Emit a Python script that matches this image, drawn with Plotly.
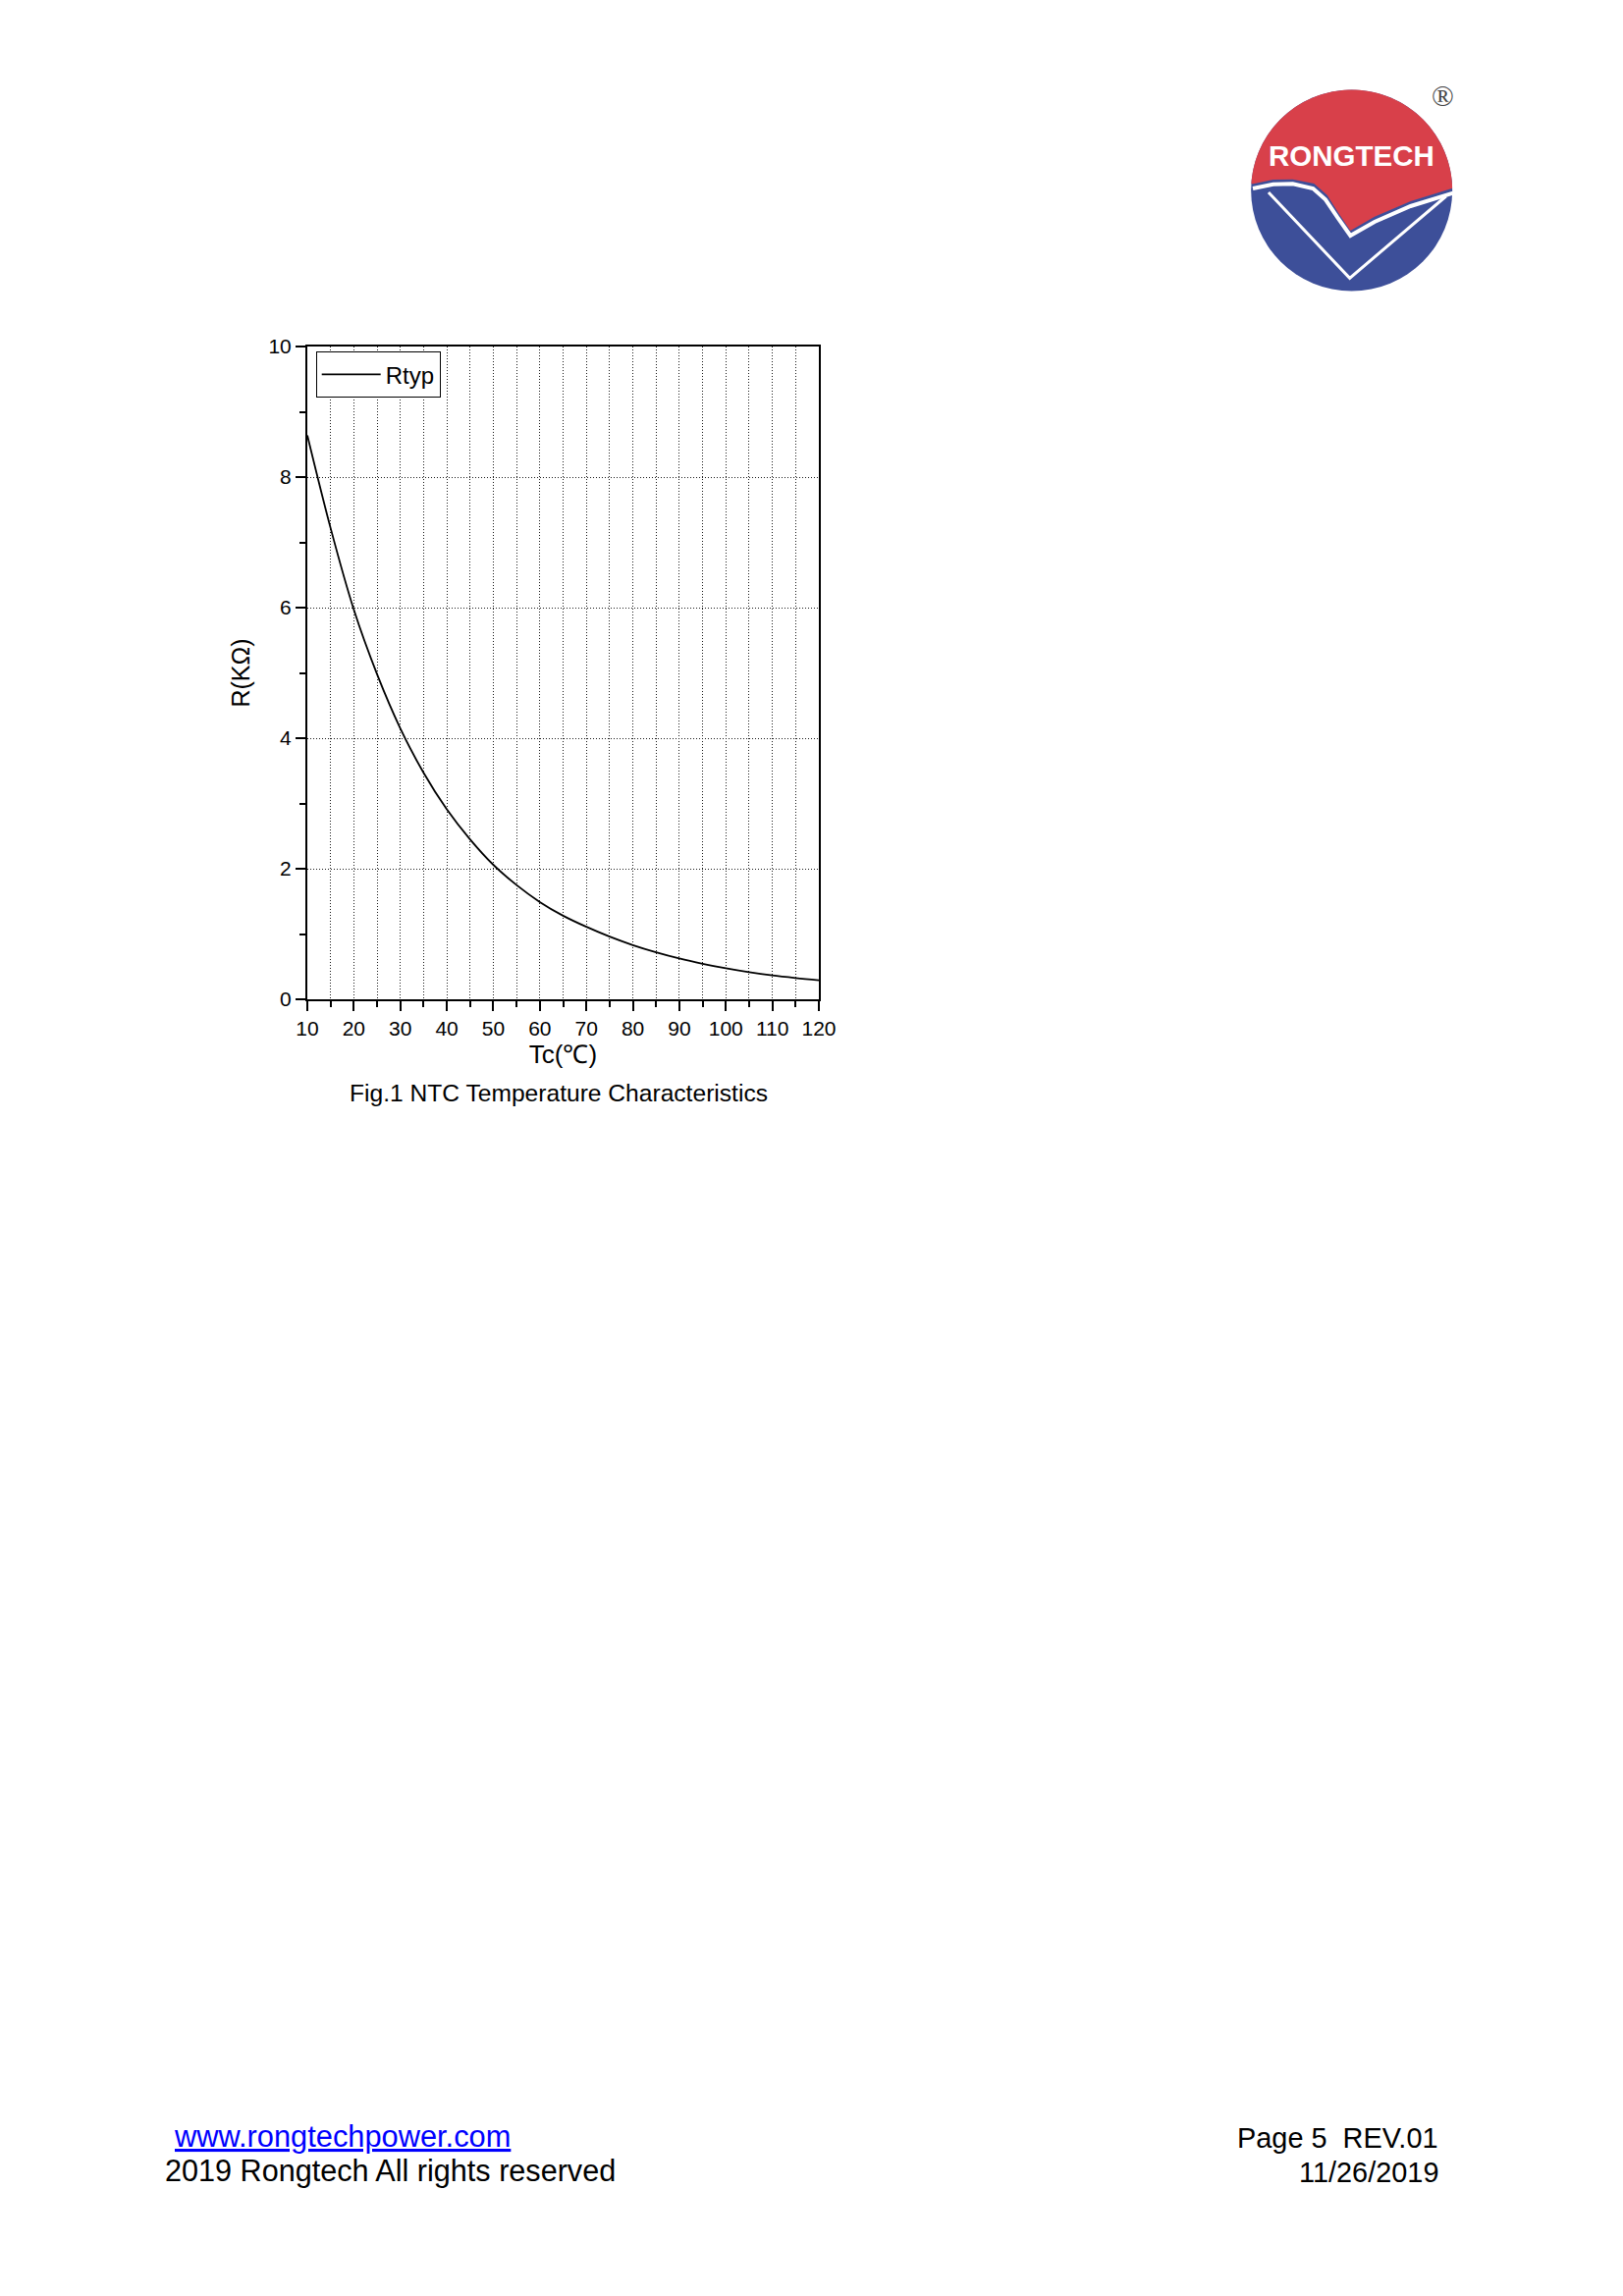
import numpy as np
import plotly.graph_objects as go

# ---------------- data ----------------
temperature_c = [10, 15, 20, 25, 30, 35, 40, 45, 50, 55, 60, 65, 70,
                 75, 80, 85, 90, 95, 100, 105, 110, 115, 120]
r_typ_kohm = [8.64, 7.22, 5.97, 4.98, 4.15, 3.47, 2.91, 2.45, 2.06, 1.75,
              1.49, 1.28, 1.11, 0.96, 0.83, 0.72, 0.625, 0.545, 0.475,
              0.415, 0.365, 0.325, 0.29]
x_tick_vals = [10, 20, 30, 40, 50, 60, 70, 80, 90, 100, 110, 120]
y_tick_vals = [0, 2, 4, 6, 8, 10]
series_name = "Rtyp"
x_title = "Tc(℃)"
y_title = "R(KΩ)"
caption = "Fig.1 NTC Temperature Characteristics"

# ---------------- page geometry ----------------
W, H = 1653, 2339            # browser window
OFF = 8                      # default body margin of the html page
FW, FH = W - 2 * OFF, H - 2 * OFF
L, R_, T, B = 313, 834, 353, 1018          # plot area in page pixels
PW, PH = R_ - L, B - T


def px(x):
    return (x - L) / PW


def py(y):
    return (B - y) / PH


FONT = "Arial, Liberation Sans, sans-serif"
GRIDC = "#1a1a1a"
DOTS = "1px,2px"

fig = go.Figure()
fig.add_trace(go.Scatter(
    x=temperature_c, y=r_typ_kohm, mode="lines", name=series_name,
    line=dict(color="black", width=1.8, shape="spline", smoothing=1.0),
    showlegend=True,
))

fig.update_xaxes(
    range=[10, 120], tickvals=x_tick_vals,
    showgrid=True, gridcolor=GRIDC, gridwidth=1, griddash=DOTS,
    showline=True, linecolor="black", linewidth=2, mirror=True,
    ticks="outside", ticklen=10, tickwidth=2, tickcolor="black",
    tickfont=dict(family=FONT, size=21, color="black"),
    minor=dict(dtick=5, tick0=5, showgrid=True, gridcolor=GRIDC,
               gridwidth=1, griddash=DOTS, ticks="outside",
               ticklen=6, tickwidth=1.5, tickcolor="black"),
    zeroline=False,
    title=dict(text=x_title, font=dict(family=FONT, size=26, color="black"),
               standoff=5),
    automargin=True,
)
fig.update_yaxes(
    range=[0, 10], tickvals=y_tick_vals,
    showgrid=True, gridcolor=GRIDC, gridwidth=1, griddash=DOTS,
    showline=True, linecolor="black", linewidth=2, mirror=True,
    ticks="outside", ticklen=10, tickwidth=2, tickcolor="black",
    tickfont=dict(family=FONT, size=21, color="black"),
    minor=dict(dtick=1, tick0=0, showgrid=False, ticks="outside",
               ticklen=6, tickwidth=1.5, tickcolor="black"),
    zeroline=False,
    title=dict(text=y_title, font=dict(family=FONT, size=25, color="black"),
               standoff=12),
    automargin=True,
)

annotations = [
    dict(text=caption, x=px(568.5), y=py(1113), xref="paper", yref="paper",
         xanchor="center", yanchor="middle", showarrow=False,
         font=dict(family=FONT, size=24.6, color="black")),
    # footer
    dict(text="<u>www.rongtechpower.com</u>", x=px(175), y=py(2176),
         xref="paper", yref="paper", xanchor="left", yanchor="middle",
         showarrow=False, font=dict(family=FONT, size=30.8, color="#0000FF")),
    dict(text="2019 Rongtech All rights reserved", x=px(166), y=py(2211),
         xref="paper", yref="paper", xanchor="left", yanchor="middle",
         showarrow=False, font=dict(family=FONT, size=30.6, color="black")),
    dict(text="Page 5  REV.01", x=px(1467), y=py(2177.5),
         xref="paper", yref="paper", xanchor="right", yanchor="middle",
         showarrow=False, font=dict(family=FONT, size=28.9, color="black")),
    dict(text="11/26/2019", x=px(1467), y=py(2213),
         xref="paper", yref="paper", xanchor="right", yanchor="middle",
         showarrow=False, font=dict(family=FONT, size=28.9, color="black")),
    # logo text
    dict(text="<b>RONGTECH</b>", x=px(1376), y=py(159),
         xref="paper", yref="paper", xanchor="center", yanchor="middle",
         showarrow=False, font=dict(family=FONT, size=29.5, color="white")),
    dict(text="®", x=px(1469), y=py(97),
         xref="paper", yref="paper", xanchor="center", yanchor="middle",
         showarrow=False,
         font=dict(family="Liberation Serif, serif", size=30, color="#444444")),
]

# ---------------- logo (decoration) ----------------
def z2f(zx, zy):
    return 1250 + zx / 3.0, 70 + zy / 3.0


def to_path(points, close=True):
    s = ""
    for i, (fx, fy) in enumerate(points):
        s += ("M" if i == 0 else "L") + f"{px(fx):.5f},{py(fy):.5f} "
    return s + ("Z" if close else "")


czx, czy, crz = 380, 372, 307.5
cx, cy = z2f(czx, czy)
rad = crz / 3.0
shapes = [
    dict(type="circle", xref="paper", yref="paper",
         x0=px(cx - rad), x1=px(cx + rad), y0=py(cy + rad), y1=py(cy - rad),
         fillcolor="#3D4F99", line=dict(width=0), layer="above"),
]
# arc over the top of the circle, from the left end of the wave to the right end
angles = np.linspace(np.arctan2(352 - czy, 80 - czx),
                     np.arctan2(365 - czy, 688 - czx), 80)
arc = [(cx + rad * np.cos(a), cy + rad * np.sin(a)) for a in angles]
wave_back = [z2f(*p) for p in [(688, 365), (560, 405), (450, 452), (376, 495),
                               (340, 442), (305, 386), (265, 351), (200, 338),
                               (140, 339), (80, 352)]]
shapes.append(dict(type="path", xref="paper", yref="paper",
                   path=to_path(arc + wave_back), fillcolor="#D8404A",
                   line=dict(width=0), layer="above"))
white_stripe = [z2f(*p) for p in [(78, 366), (140, 353), (200, 352), (262, 366),
                                  (300, 400), (337, 455), (376, 510), (450, 468),
                                  (560, 420), (690, 380)]]
shapes.append(dict(type="path", xref="paper", yref="paper",
                   path=to_path(white_stripe, close=False),
                   line=dict(color="white", width=4), layer="above"))
v_line = [z2f(*p) for p in [(126, 378), (374, 640), (668, 390)]]
shapes.append(dict(type="path", xref="paper", yref="paper",
                   path=to_path(v_line, close=False),
                   line=dict(color="white", width=3), layer="above"))

fig.update_layout(
    width=FW, height=FH,
    margin=dict(l=L - OFF, r=FW - (R_ - OFF), t=T - OFF, b=FH - (B - OFF),
                pad=0, autoexpand=False),
    paper_bgcolor="white", plot_bgcolor="white",
    font=dict(family=FONT, color="black"),
    legend=dict(x=px(321.7), y=py(358.3), xanchor="left", yanchor="top",
                bgcolor="white", bordercolor="black", borderwidth=1,
                font=dict(family=FONT, size=24, color="black"),
                itemwidth=60, tracegroupgap=0),
    annotations=annotations,
    shapes=shapes,
)

fig.write_html("out.html", config=dict(displayModeBar=False))
